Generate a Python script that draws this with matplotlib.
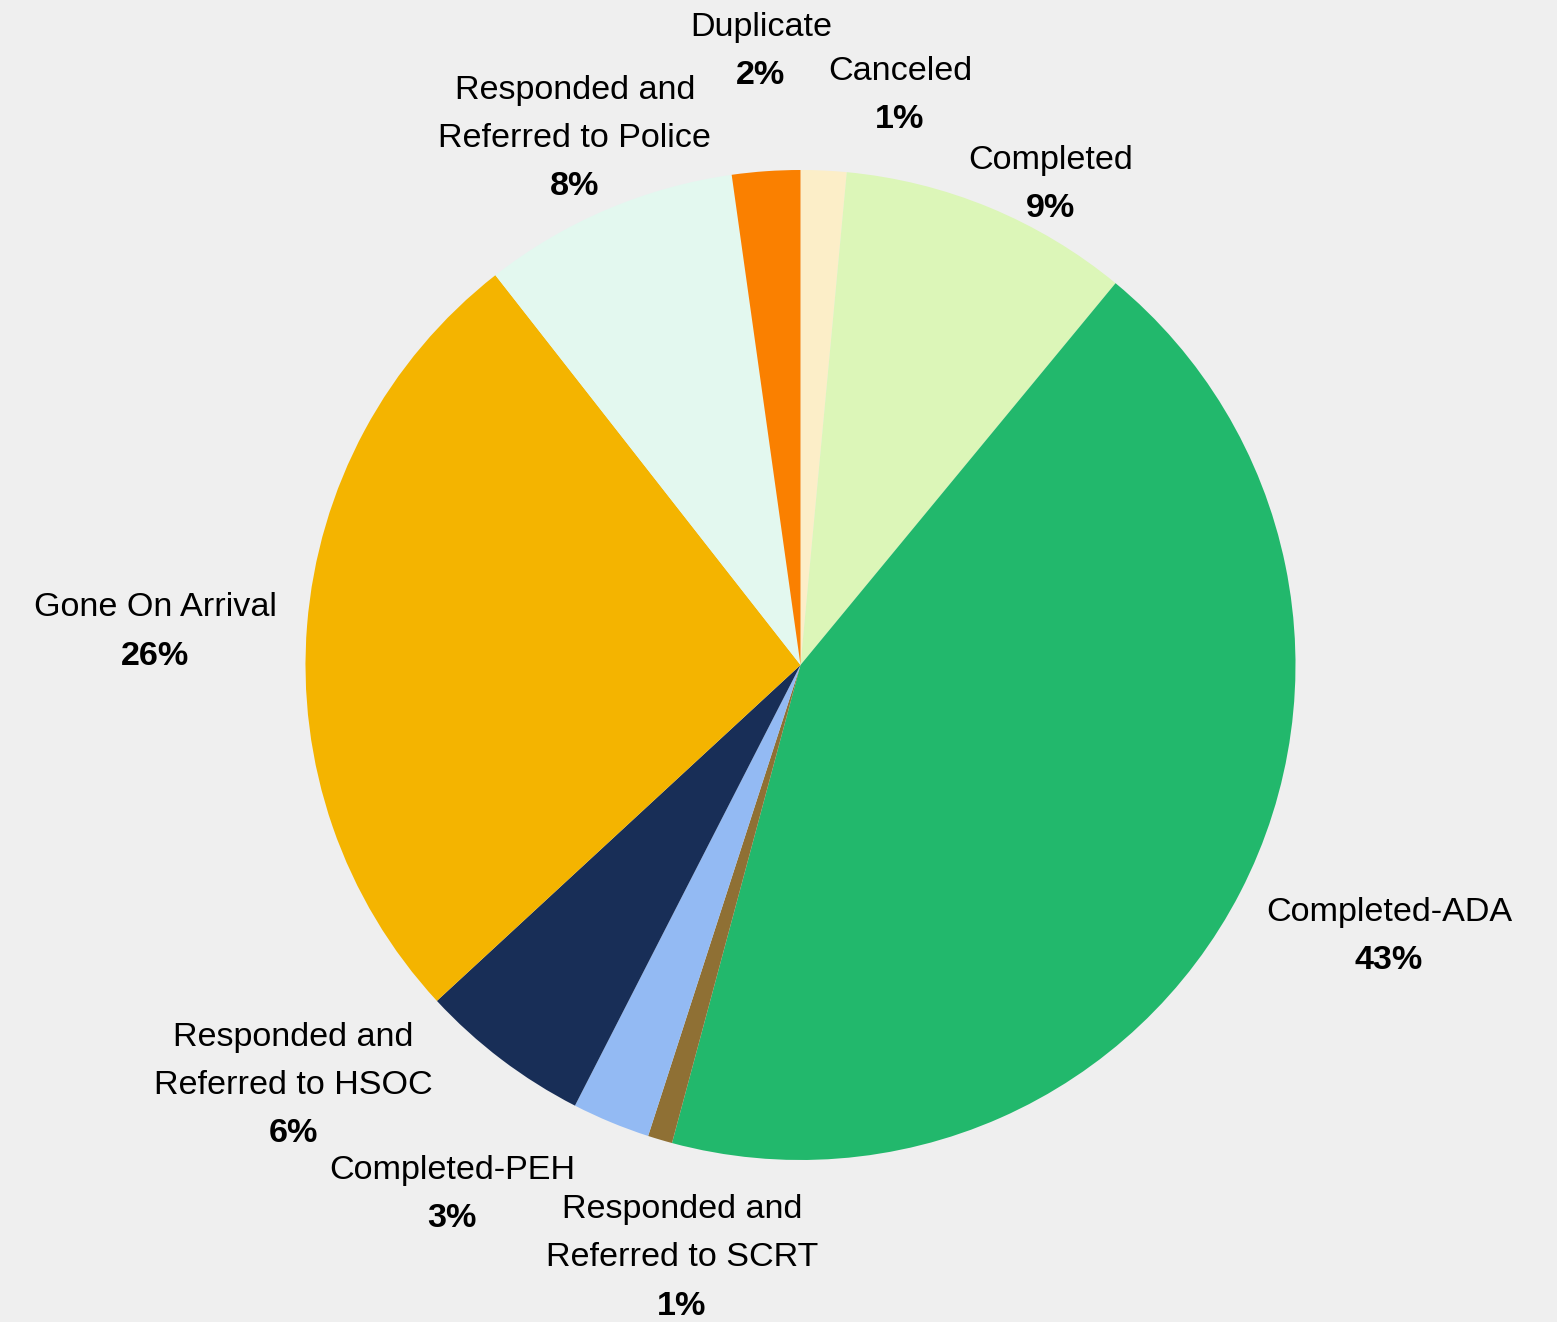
import matplotlib.pyplot as plt

plt.rcParams['font.family'] = ['Liberation Sans', 'DejaVu Sans']

# call outcomes, share of calls (%), clockwise from the top
outcomes = [
    "Canceled",
    "Completed",
    "Completed-ADA",
    "Responded and\nReferred to SCRT",
    "Completed-PEH",
    "Responded and\nReferred to HSOC",
    "Gone On Arrival",
    "Responded and\nReferred to Police",
    "Duplicate",
]
shares = [1.49, 9.49, 43.2, 0.8, 2.55, 5.6, 26.3, 8.35, 2.22]

colors = ["#FCEEC8", "#DCF6B8", "#22B86C", "#8F7034", "#93BAF3",
          "#182E57", "#F4B400", "#E3F8EF", "#FA8000"]

# where each label's first line sits (data units, pie radius = 1)
label_pos = [(0.201, 1.182), (0.506, 1.003), (1.189, -0.517),
             (-0.240, -1.118), (-0.704, -1.039), (-1.025, -0.770),
             (-1.304, 0.098), (-0.456, 1.143), (-0.080, 1.271)]

bg = "#EFEFEF"
fig = plt.figure(figsize=(15.57, 13.22), dpi=100, facecolor=bg)
ax = fig.add_axes([0, 0, 1, 1])
ax.set_facecolor(bg)

ax.pie(shares, colors=colors, startangle=90, counterclock=False,
       radius=1.0, wedgeprops=dict(linewidth=0))

total = sum(shares)
pitch = 34.6  # points between text lines
for name, val, (x, y) in zip(outcomes, shares, label_pos):
    lines = name.split("\n")
    for k, line in enumerate(lines):
        ax.annotate(line, (x, y), xytext=(0, -k * pitch), textcoords="offset points",
                    ha="center", va="baseline", fontsize=24.6, color="black")
    ax.annotate(f"{val / total * 100:.0f}%", (x, y),
                xytext=(0, -len(lines) * pitch), textcoords="offset points",
                ha="center", va="baseline", fontsize=24.6, fontweight="bold",
                color="black")

ax.set_xlim(-800.5 / 495, (1557 - 800.5) / 495)
ax.set_ylim(-(1322 - 665) / 495, 665 / 495)
ax.set_aspect("auto")
ax.axis("off")

fig.savefig("out.png", dpi=100, facecolor=bg)
